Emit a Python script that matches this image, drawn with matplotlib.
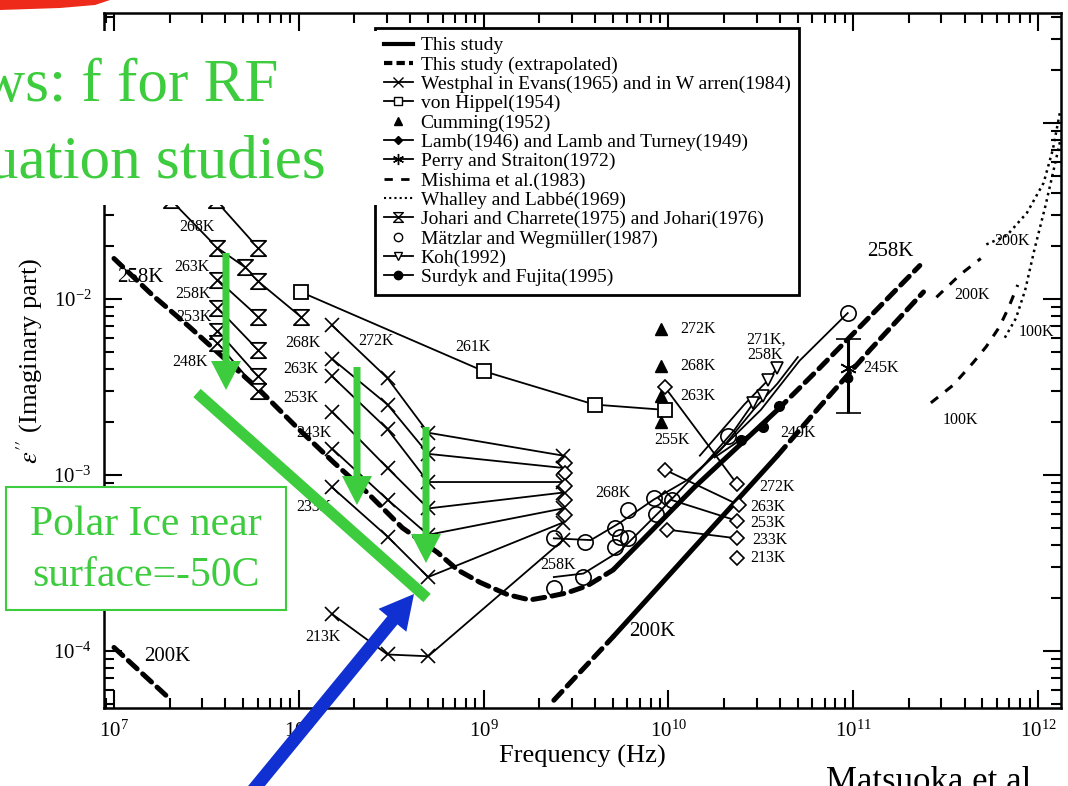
import numpy as np
import matplotlib.pyplot as plt
from matplotlib.patches import Rectangle, Polygon, FancyArrow
from matplotlib.lines import Line2D
from matplotlib.path import Path

plt.rcParams['font.family'] = ['Liberation Serif', 'DejaVu Serif']
plt.rcParams['mathtext.fontset'] = 'stix'

W, H = 1068, 786

# values, as log10(frequency / Hz) and log10(eps'')
# This study 258 K : low-f extrapolation, measured range, high-f extrapolation
s258_lo_lf = [7.00, 7.21, 7.41, 7.61, 7.79, 7.99, 8.19, 8.37, 8.56, 8.75, 8.86, 8.98, 9.13, 9.25, 9.36, 9.45, 9.56, 9.70]
s258_lo_le = [-1.77, -1.98, -2.16, -2.35, -2.52, -2.73, -2.93, -3.10, -3.30, -3.44, -3.54, -3.61, -3.68, -3.71, -3.69, -3.67, -3.63, -3.54]
s258_lf = [9.70, 10.14, 10.59]
s258_le = [-3.54, -3.07, -2.63]
s258_hi_lf = [10.59, 10.82, 11.09, 11.36]
s258_hi_le = [-2.63, -2.39, -2.10, -1.81]
# This study 200 K
s200_lf = [9.70, 10.59]
s200_le = [-3.92, -2.89]
s200_lo_lf = [9.38, 9.70]
s200_lo_le = [-4.28, -3.92]
s200_hi_lf = [10.59, 10.82, 11.09, 11.38]
s200_hi_le = [-2.89, -2.61, -2.29, -1.96]
s200_vlo_lf = [7.00, 7.31]
s200_vlo_le = [-3.98, -4.28]

# Westphal (272, 268, 263, 253, 243, 233, 213 K)
west_lf = [8.18, 8.48, 8.70, 9.43]
west_le = [[-2.15, -2.45, -2.76, -2.89],
           [-2.34, -2.60, -2.88, -2.96],
           [-2.44, -2.74, -3.04, -3.04],
           [-2.64, -2.96, -3.19, -3.10],
           [-2.85, -3.14, -3.34, -3.19],
           [-3.07, -3.35, -3.58, -3.27],
           [-3.79, -4.02, -4.03, -3.37]]

# Johari and Charrette
johari_lf = [[7.31, 7.56, 7.71, 7.78, 8.01], [7.55, 7.78], [7.56, 7.78],
             [7.56, 7.78], [7.56, 7.78], [7.56, 7.78]]
johari_le = [[-1.44, -1.71, -1.82, -1.90, -2.10], [-1.44, -1.71], [-1.89, -2.10],
             [-2.05, -2.29], [-2.18, -2.44], [-2.25, -2.52]]

# von Hippel 261 K
hip_lf = [8.01, 9.00, 9.60, 9.98]
hip_le = [-1.96, -2.41, -2.60, -2.63]

# Cumming
cum_lf = [9.96, 9.96, 9.96, 9.96]
cum_le = [-2.17, -2.38, -2.55, -2.70]

# Lamb
lamb_lf = [[9.98, 10.37], [9.98, 10.38], [9.98, 10.37], [9.99, 10.37], [10.37]]
lamb_le = [[-2.50, -3.05], [-2.97, -3.17], [-3.13, -3.26], [-3.31, -3.36], [-3.47]]
lamb3_lf = [9.44, 9.44, 9.44, 9.44, 9.44]
lamb3_le = [-2.93, -2.99, -3.06, -3.14, -3.23]

# Perry and Straiton 245 K (value, lower, upper)
perry_lf = 10.97
perry_le = [-2.39, -2.65, -2.23]

# Mishima
mish100_lf = [11.42, 11.54, 11.65, 11.72, 11.79, 11.84, 11.89]
mish100_le = [-2.59, -2.49, -2.36, -2.27, -2.16, -2.05, -1.92]
mish200_lf = [11.45, 11.58, 11.69]
mish200_le = [-1.99, -1.86, -1.77]

# Whalley and Labbe
wl200_lf = [11.72, 11.83, 11.94, 12.03, 12.08, 12.12]
wl200_le = [-1.69, -1.64, -1.51, -1.34, -1.15, -0.93]
wl100_lf = [11.82, 11.88, 11.93, 11.98, 12.04, 12.09, 12.12]
wl100_le = [-2.22, -2.11, -1.95, -1.72, -1.47, -1.24, -1.10]

# Matzler and Wegmuller
mz268_lf = [9.38, 9.58, 9.74, 9.92, 10.10, 10.28, 10.46, 10.59, 10.70]
mz268_le = [-3.36, -3.37, -3.27, -3.14, -3.03, -2.86, -2.63, -2.48, -2.33]
mz258_lf = [9.38, 9.54, 9.74, 9.96, 10.17, 10.50, 10.71, 10.97]
mz258_le = [-3.58, -3.56, -3.43, -3.20, -2.97, -2.63, -2.35, -2.08]
mz_pts_lf = [9.38, 9.55, 9.71, 9.78, 9.92, 10.02, 9.93, 9.74, 9.71, 9.78, 10.32, 9.38, 9.54, 10.97]
mz_pts_le = [-3.36, -3.38, -3.30, -3.20, -3.13, -3.14, -3.22, -3.35, -3.41, -3.36, -2.78, -3.64, -3.58, -2.08]

# Koh
koh271_lf = [10.17, 10.41, 10.54, 10.59]
koh271_le = [-2.89, -2.60, -2.46, -2.39]
koh258_lf = [10.17, 10.36, 10.46, 10.51]
koh258_le = [-2.97, -2.74, -2.59, -2.55]

# Surdyk and Fujita 249 K
surd_lf = [10.25, 10.39, 10.51, 10.60]
surd_le = [-2.90, -2.80, -2.73, -2.61]

# temperature labels: text, log10 f, log10 eps''
small_labels = [
    ("268K", 7.45, -1.59), ("263K", 7.42, -1.82), ("258K", 7.43, -1.97),
    ("253K", 7.43, -2.10), ("248K", 7.41, -2.36),
    ("268K", 8.02, -2.25), ("272K", 8.42, -2.24), ("263K", 8.01, -2.40),
    ("253K", 8.01, -2.56), ("243K", 8.08, -2.76), ("233K", 8.08, -3.18),
    ("213K", 8.13, -3.92), ("261K", 8.94, -2.27),
    ("272K", 10.16, -2.17), ("268K", 10.16, -2.38), ("263K", 10.16, -2.55),
    ("255K", 10.02, -2.80),
    ("272K", 10.59, -3.07), ("263K", 10.54, -3.18), ("253K", 10.54, -3.27),
    ("233K", 10.55, -3.37), ("213K", 10.54, -3.47),
    ("268K", 9.70, -3.10), ("258K", 9.40, -3.51),
    ("271K,", 10.53, -2.23), ("258K", 10.52, -2.32), ("249K", 10.70, -2.76),
    ("245K", 11.15, -2.39),
    ("200K", 11.64, -1.98), ("100K", 11.58, -2.69),
    ("200K", 11.86, -1.67), ("100K", 11.99, -2.19),
]
big_labels = [("258K", 7.14, -1.88), ("258K", 11.20, -1.73),
              ("200K", 7.29, -4.03), ("200K", 9.91, -3.89)]

legend_names = ["This study", "This study (extrapolated)",
                "Westphal in Evans(1965) and in W arren(1984)", "von Hippel(1954)",
                "Cumming(1952)", "Lamb(1946) and Lamb and Turney(1949)",
                "Perry and Straiton(1972)", "Mishima et al.(1983)",
                "Whalley and Labbé(1969)", "Johari and Charrete(1975) and Johari(1976)",
                "Mätzlar and Wegmüller(1987)", "Koh(1992)", "Surdyk and Fujita(1995)"]


def P(lf, le):
    return 10 ** np.asarray(lf, float), 10 ** np.asarray(le, float)


hourglass = Path([(-1, 1), (1, 1), (-1, -1), (1, -1), (-1, 1)],
                 [Path.MOVETO, Path.LINETO, Path.LINETO, Path.LINETO, Path.CLOSEPOLY])
star = (6, 2, 0)
k = 'black'

fig = plt.figure(figsize=(W / 100, H / 100), dpi=100)
ax = fig.add_axes([104 / W, 1 - 708 / H, (1061 - 104) / W, (708 - 13) / H])
ax.set_xscale('log')
ax.set_yscale('log')
ax.set_xlim(10 ** 6.946, 10 ** 12.124)
ax.set_ylim(10 ** -4.324, 10 ** -0.375)

thick = dict(color=k, lw=3.6, solid_capstyle='butt')
dash = dict(color=k, lw=3.6, dashes=(2.4, 1.5), dash_capstyle='round')
thin = dict(color=k, lw=1.3)

# this study
ax.plot(*P(s258_lo_lf, s258_lo_le), **dash)
ax.plot(*P(s258_lf, s258_le), **thick)
ax.plot(*P(s258_hi_lf, s258_hi_le), **dash)
ax.plot(*P(s200_lo_lf, s200_lo_le), **dash)
ax.plot(*P(s200_lf, s200_le), **thick)
ax.plot(*P(s200_hi_lf, s200_hi_le), **dash)
ax.plot(*P(s200_vlo_lf, s200_vlo_le), **dash)

# Westphal
for row in west_le:
    ax.plot(*P(west_lf, row), marker='x', ms=10, mew=1.2, **thin)

# Johari
for lf, le in zip(johari_lf, johari_le):
    ax.plot(*P(lf, le), marker=hourglass, ms=11, mew=1.3, mfc='white', **thin)

# von Hippel
ax.plot(*P(hip_lf, hip_le), marker='s', ms=10, mew=1.3, mfc='white', **thin)

# Cumming
ax.plot(*P(cum_lf, cum_le), ls='none', marker='^', ms=9, color=k)

# Lamb
for lf, le in zip(lamb_lf, lamb_le):
    ax.plot(*P(lf, le), marker='D', ms=7, mew=1.2, mfc='white', **thin)
ax.plot(*P(lamb3_lf, lamb3_le), ls='none', marker='D', ms=7, mew=1.2, mfc='white', color=k)

# Matzler
ax.plot(*P(mz268_lf, mz268_le), **thin)
ax.plot(*P(mz258_lf, mz258_le), **thin)
ax.plot(*P(mz_pts_lf, mz_pts_le), ls='none', marker='o', ms=11, mew=1.2, mfc='none', color=k)

# Koh
ax.plot(*P(koh271_lf, koh271_le), marker='v', ms=9, mew=1.2, mfc='white', markevery=[2, 3], **thin)
ax.plot(*P(koh258_lf, koh258_le), marker='v', ms=9, mew=1.2, mfc='white', markevery=[2, 3], **thin)

# Surdyk
ax.plot(*P(surd_lf, surd_le), marker='o', ms=7, markevery=[1, 2, 3], **thin)

# Perry and Straiton with error bar
pf = 10 ** perry_lf
pv, plo, phi = 10 ** np.array(perry_le)
ax.errorbar([pf], [pv], yerr=[[pv - plo], [phi - pv]], color=k, lw=2.2, capsize=9, capthick=2.2,
            marker=star, ms=12, mew=1.2)
ax.plot([pf], [10 ** -2.45], marker='o', ms=6, color=k)

# Mishima
ax.plot(*P(mish100_lf, mish100_le), color=k, lw=2.2, dashes=(3, 3))
ax.plot(*P(mish200_lf, mish200_le), color=k, lw=2.2, dashes=(3, 3))

# Whalley and Labbe
ax.plot(*P(wl200_lf, wl200_le), color=k, lw=1.8, ls=(0, (1, 1.6)))
ax.plot(*P(wl100_lf, wl100_le), color=k, lw=1.8, ls=(0, (1, 1.6)))

for s, lf, le in small_labels:
    ax.text(10 ** lf, 10 ** le, s, fontsize=11.5, ha='center', va='center')
for s, lf, le in big_labels:
    ax.text(10 ** lf, 10 ** le, s, fontsize=15, ha='center', va='center')

ax.tick_params(which='both', direction='in', top=True, right=True, width=1.5)
ax.tick_params(which='major', length=13, labelsize=15, pad=9)
ax.tick_params(which='minor', length=7)
for sp in ax.spines.values():
    sp.set_linewidth(1.8)
ax.set_xlabel("Frequency (Hz)", fontsize=19, labelpad=2)
ax.set_ylabel(r"$\varepsilon''$ (Imaginary part)", fontsize=19, labelpad=6)

handles = [
    Line2D([], [], color=k, lw=3),
    Line2D([], [], color=k, lw=3, dashes=(2, 1)),
    Line2D([], [], color=k, lw=1.3, marker='x', ms=7),
    Line2D([], [], color=k, lw=1.3, marker='s', ms=6, mfc='white'),
    Line2D([], [], color=k, ls='none', marker='^', ms=6),
    Line2D([], [], color=k, lw=1.3, marker='D', ms=4),
    Line2D([], [], color=k, lw=1.3, marker=star, ms=8),
    Line2D([], [], color=k, lw=2, dashes=(3, 3)),
    Line2D([], [], color=k, lw=1.5, ls=(0, (1, 1.5))),
    Line2D([], [], color=k, lw=1.3, marker=hourglass, ms=7, mfc='white'),
    Line2D([], [], color=k, ls='none', marker='o', ms=6, mfc='none'),
    Line2D([], [], color=k, lw=1.3, marker='v', ms=6, mfc='white'),
    Line2D([], [], color=k, lw=1.3, marker='o', ms=6),
]
leg = ax.legend(handles, legend_names, loc='upper left', bbox_to_anchor=(375 / W, 1 - 28 / H),
                bbox_transform=fig.transFigure, borderaxespad=0, fontsize=14,
                labelspacing=0.085, handlelength=1.5, handletextpad=0.4, borderpad=0.45,
                fancybox=False, framealpha=1, edgecolor=k)
leg.get_frame().set_linewidth(2)
leg.set_zorder(5)

# slide overlay, in figure pixels
ov = fig.add_axes([0, 0, 1, 1])
ov.set_xlim(0, W)
ov.set_ylim(H, 0)
ov.axis('off')
ov.set_zorder(10)
green = '#3dcc3d'
blue = '#1030d2'
ov.add_patch(Rectangle((0, 31), 377, 174, facecolor='white', edgecolor='none'))
ov.add_patch(Polygon([(0, 0), (110, 0), (95, 5), (60, 8), (0, 10)], closed=True,
                     facecolor='#ee2a1a', edgecolor='none'))
ov.text(278, 101, "ws: f for RF", fontsize=44, color=green, ha='right', va='baseline')
ov.text(326, 177, "uation studies", fontsize=44, color=green, ha='right', va='baseline')
ov.add_patch(Rectangle((6, 487), 280, 123, facecolor='white', edgecolor=green, lw=1.5))
ov.text(146, 535, "Polar Ice near", fontsize=30, color=green, ha='center', va='baseline')
ov.text(146, 586, "surface=-50C", fontsize=30, color=green, ha='center', va='baseline')
ov.plot([197, 427], [393, 598], color=green, lw=8, solid_capstyle='butt')
for x0, y0, dy in [(226, 253, 137), (357, 367, 138), (426, 427, 136)]:
    ov.add_patch(FancyArrow(x0, y0, 0, dy, width=7, head_width=30, head_length=29,
                            length_includes_head=True, color=green, lw=0))
ov.add_patch(FancyArrow(245, 800, 169, -206, width=13, head_width=36, head_length=34,
                        length_includes_head=True, color=blue, lw=0))
ov.text(826, 791, "Matsuoka et al.", fontsize=25, color=k, ha='left', va='baseline')

fig.savefig('out.png', dpi=100)
